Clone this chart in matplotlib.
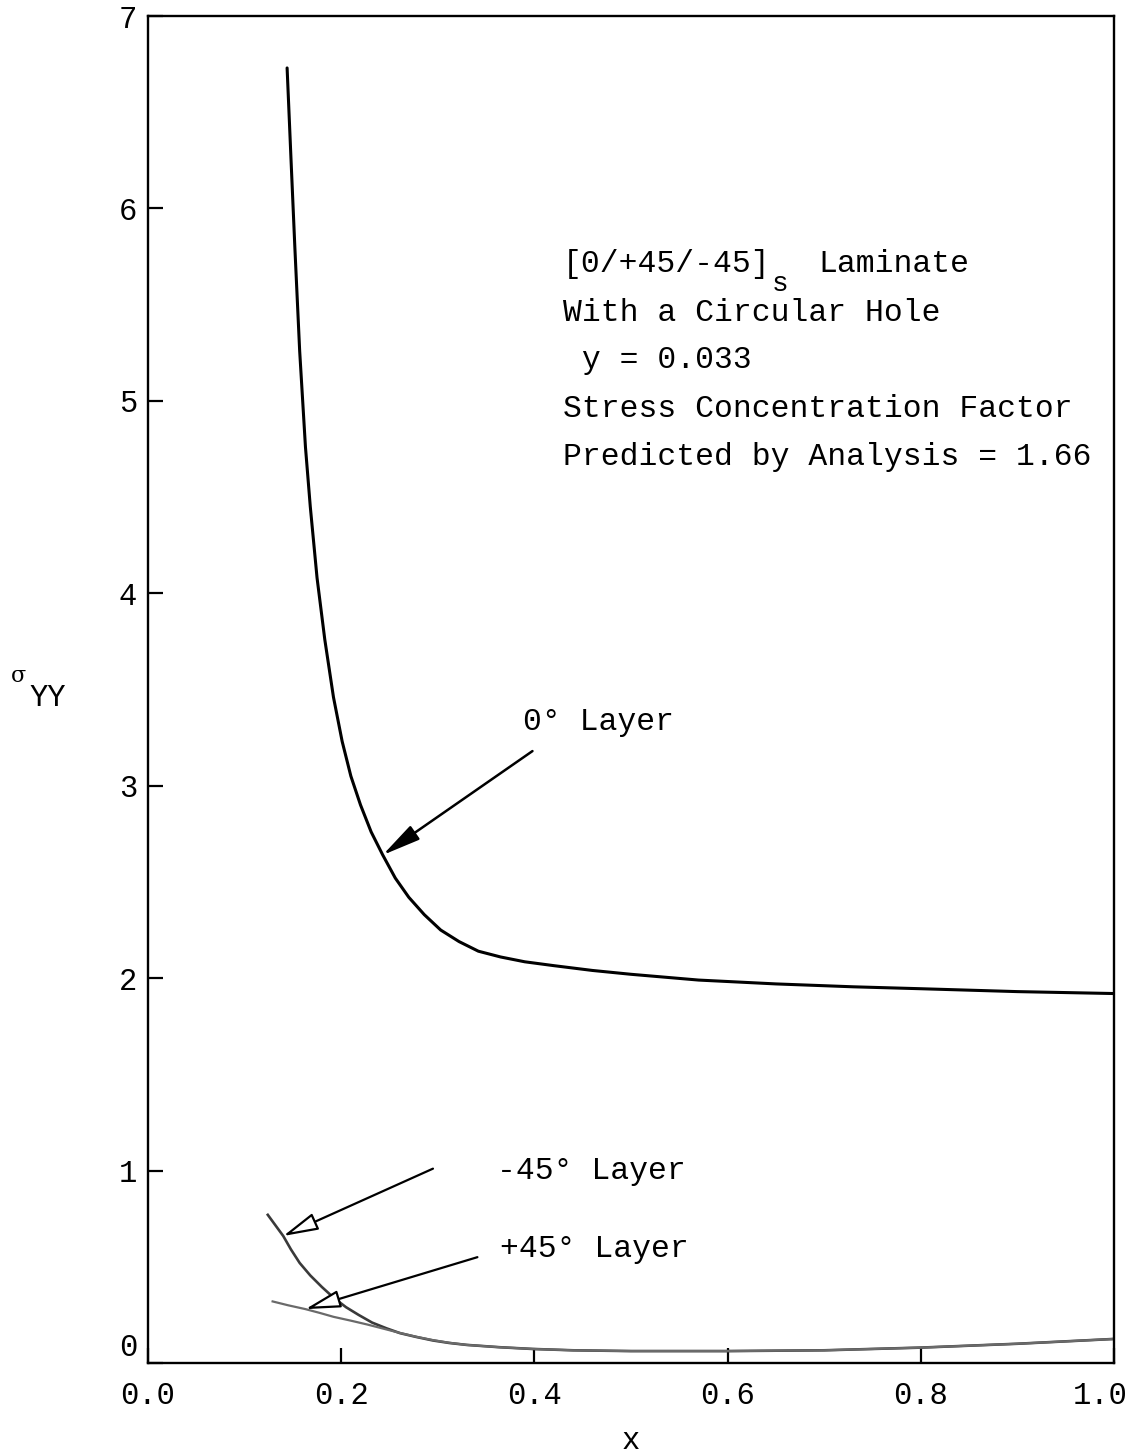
import numpy as np
import matplotlib
matplotlib.use("Agg")
import matplotlib.pyplot as plt
from matplotlib import transforms

# values
x_0deg = [0.144, 0.148, 0.152, 0.157, 0.163, 0.168, 0.175, 0.183, 0.192, 0.201, 0.210,
          0.220, 0.231, 0.243, 0.256, 0.270, 0.286, 0.303, 0.322, 0.342, 0.365, 0.39,
          0.42, 0.46, 0.50, 0.57, 0.65, 0.73, 0.80, 0.90, 1.0]
y_0deg = [6.73, 6.26, 5.80, 5.26, 4.76, 4.45, 4.08, 3.76, 3.46, 3.23, 3.05,
          2.90, 2.76, 2.64, 2.52, 2.42, 2.33, 2.25, 2.19, 2.14, 2.11, 2.085,
          2.065, 2.04, 2.02, 1.99, 1.97, 1.955, 1.945, 1.93, 1.92]

x_m45 = [0.124, 0.132, 0.140, 0.148, 0.157, 0.168, 0.180, 0.192, 0.205, 0.218, 0.232,
         0.247, 0.261, 0.278, 0.295, 0.312, 0.330, 0.364, 0.398, 0.44, 0.50, 0.60,
         0.70, 0.80, 0.90, 1.0]
y_m45 = [0.77, 0.715, 0.66, 0.59, 0.52, 0.455, 0.395, 0.34, 0.29, 0.25, 0.21,
         0.18, 0.155, 0.135, 0.117, 0.104, 0.094, 0.082, 0.073, 0.066, 0.062, 0.062,
         0.066, 0.08, 0.10, 0.125]

x_p45 = [0.129, 0.145, 0.163, 0.178, 0.192, 0.210, 0.227, 0.244, 0.261, 0.278, 0.295,
         0.312, 0.330, 0.364, 0.398, 0.44, 0.50, 0.60, 0.70, 0.80, 0.90, 1.0]
y_p45 = [0.32, 0.30, 0.28, 0.26, 0.24, 0.22, 0.20, 0.178, 0.156, 0.136, 0.119,
         0.105, 0.094, 0.082, 0.073, 0.066, 0.062, 0.062, 0.066, 0.08, 0.10, 0.125]

x_ticks = [0.0, 0.2, 0.4, 0.6, 0.8, 1.0]
x_ticklabels = ["0.0", "0.2", "0.4", "0.6", "0.8", "1.0"]
y_ticks = [0, 1, 2, 3, 4, 5, 6, 7]

mono = "Liberation Mono"
plt.rcParams['font.family'] = [mono, 'DejaVu Sans']

W, H = 1127, 1454
fig = plt.figure(figsize=(W / 100, H / 100), dpi=100)
ax = fig.add_axes([148 / W, 1 - 1363 / H, 966 / W, (1363 - 16) / H])

ax.plot(x_0deg, y_0deg, color="black", lw=2.2, solid_capstyle="round")
ax.plot(x_m45, y_m45, color="#3a3a3a", lw=1.9)
ax.plot(x_p45, y_p45, color="#6a6a6a", lw=1.6)

ax.set_xlim(0, 1.0)
ax.set_ylim(0, 7)
ax.set_xticks(x_ticks)
ax.set_xticklabels(x_ticklabels)
ax.set_yticks(y_ticks)
ax.tick_params(direction="in", length=11, width=1.6, labelsize=22, colors="black")
ax.tick_params(axis="x", pad=13)
ax.tick_params(axis="y", pad=8)
for s in ax.spines.values():
    s.set_linewidth(1.7)

# the "0" label on the y axis sits above the axis line in the original
lab0 = ax.get_yticklabels()[0]
lab0.set_transform(lab0.get_transform() + transforms.ScaledTranslation(0, 18 / 100, fig.dpi_scale_trans))
# "1.0" is printed a little left of the corner
lab1 = ax.get_xticklabels()[-1]
lab1.set_transform(lab1.get_transform() + transforms.ScaledTranslation(-14 / 100, 0, fig.dpi_scale_trans))

ax.set_xlabel("x", fontsize=22, labelpad=11)
fig.text(18 / W, 1 - 676 / H, "\u03c3", fontsize=16, ha="center", va="center", family="DejaVu Serif")
fig.text(48 / W, 1 - 698 / H, "YY", fontsize=22, ha="center", va="center")

# text block
fs = 22.6
def px2x(px):
    return (px - 148) / 966

def px2y(py):
    return (1363 - py) / 192.4

ax.text(px2x(563), px2y(264), "[0/+45/-45]", fontsize=fs, va="center")
ax.text(px2x(772), px2y(284), "s", fontsize=20, va="center")
ax.text(px2x(818), px2y(264), "Laminate", fontsize=fs, va="center")
ax.text(px2x(563), px2y(313), "With a Circular Hole", fontsize=fs, va="center")
ax.text(px2x(563), px2y(360), " y = 0.033", fontsize=fs, va="center")
ax.text(px2x(563), px2y(409), "Stress Concentration Factor", fontsize=fs, va="center")
ax.text(px2x(563), px2y(457), "Predicted by Analysis = 1.66", fontsize=fs, va="center")

# layer labels with arrows
ax.text(0.388, 3.33, "0\u00b0 Layer", fontsize=fs, va="center")
ax.annotate("", xy=(0.243, 2.64), xytext=(0.398, 3.18),
            arrowprops=dict(arrowstyle="-|>,head_length=1.3,head_width=0.28", lw=1.8,
                            color="black", shrinkA=0, shrinkB=0, mutation_scale=18))

ax.text(0.361, 1.00, "-45\u00b0 Layer", fontsize=fs, va="center")
ax.annotate("", xy=(0.140, 0.66), xytext=(0.295, 1.01),
            arrowprops=dict(arrowstyle="-|>,head_length=1.2,head_width=0.3", lw=1.6,
                            fc="white", ec="black", shrinkA=0, shrinkB=0, mutation_scale=18))

ax.text(0.364, 0.59, "+45\u00b0 Layer", fontsize=fs, va="center")
ax.annotate("", xy=(0.163, 0.28), xytext=(0.341, 0.55),
            arrowprops=dict(arrowstyle="-|>,head_length=1.2,head_width=0.3", lw=1.6,
                            fc="white", ec="black", shrinkA=0, shrinkB=0, mutation_scale=18))

fig.savefig("out.png", dpi=100, facecolor="white")
